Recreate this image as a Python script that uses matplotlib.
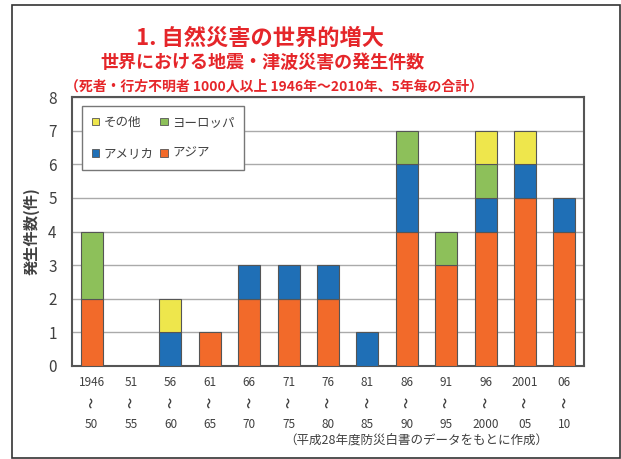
"""Earthquake / tsunami disaster counts, stacked by region."""

import matplotlib

matplotlib.use('Agg')
import matplotlib.pyplot as plt
import numpy as np
from matplotlib.patches import Patch, Rectangle

plt.rcParams['font.family'] = ['Noto Sans CJK JP', 'DejaVu Sans']

PERIOD_START = ['1946', '51', '56', '61', '66', '71', '76', '81', '86', '91', '96', '2001', '06']
PERIOD_END = ['50', '55', '60', '65', '70', '75', '80', '85', '90', '95', '2000', '05', '10']

ASIA = [2, 0, 0, 1, 2, 2, 2, 0, 4, 3, 4, 5, 4]
AMERICA = [0, 0, 1, 0, 1, 1, 1, 1, 2, 0, 1, 1, 1]
EUROPE = [2, 0, 0, 0, 0, 0, 0, 0, 1, 1, 1, 0, 0]
OTHER = [0, 0, 1, 0, 0, 0, 0, 0, 0, 0, 1, 1, 0]

SERIES = [
    ('アジア', ASIA, '#F26A2A'),
    ('アメリカ', AMERICA, '#1F6FB6'),
    ('ヨーロッパ', EUROPE, '#8DC05A'),
    ('その他', OTHER, '#EEE64C'),
]

TITLE_RED = '#E5262A'
TEXT_GRAY = '#404040'
EDGE_GRAY = '#555555'

W, H = 621, 459
fig = plt.figure(figsize=(W / 100, H / 100), dpi=100)

# outer frame around the whole slide
fig.patches.append(
    Rectangle((12 / W, 1 - 458 / H), (620 - 12) / W, (458 - 5) / H,
              transform=fig.transFigure, fill=False, edgecolor='#333333', linewidth=1.2)
)

ax = fig.add_axes([72 / W, 1 - 366 / H, 512 / W, 269 / H])

x = np.arange(len(PERIOD_START))
bottom = np.zeros(len(x))
for name, values, color in SERIES:
    vals = np.array(values, dtype=float)
    mask = vals > 0
    ax.bar(x[mask], vals[mask], bottom=bottom[mask], width=0.56, color=color,
           edgecolor=EDGE_GRAY, linewidth=0.8, zorder=3)
    bottom += vals

ax.set_xlim(-0.5, len(x) - 0.5)
ax.set_ylim(0, 8)
ax.set_yticks(range(0, 9))
ax.yaxis.grid(True, color='#AAAAAA', linewidth=1.0, zorder=0)
ax.set_axisbelow(True)
ax.tick_params(axis='y', length=0, pad=11, labelsize=11, labelcolor=TEXT_GRAY)
ax.tick_params(axis='x', length=0, pad=7, labelsize=8.5, labelcolor=TEXT_GRAY)
ax.set_xticks(x)
ax.set_xticklabels(PERIOD_START)

# "〜" written vertically, then the end year of each period
xform = ax.get_xaxis_transform()
for i, end in enumerate(PERIOD_END):
    ax.annotate('〜', xy=(i, 0), xycoords=xform, xytext=(0, -26.5), textcoords='offset points',
                ha='center', va='center', rotation=90, fontsize=8, fontweight='bold',
                color=TEXT_GRAY, annotation_clip=False)
    ax.annotate(end, xy=(i, 0), xycoords=xform, xytext=(0, -41.8), textcoords='offset points',
                ha='center', va='center', fontsize=8.5, color=TEXT_GRAY, annotation_clip=False)

for spine in ax.spines.values():
    spine.set_color('#555555')
    spine.set_linewidth(1.5)

ax.set_ylabel('発生件数(件)', fontsize=11, fontweight='bold', color=TEXT_GRAY, labelpad=6)

# legend: その他 / アメリカ in first column, ヨーロッパ / アジア in second
by_name = {name: color for name, _, color in SERIES}
order = ['その他', 'アメリカ', 'ヨーロッパ', 'アジア']
handles = [Patch(facecolor=by_name[n], edgecolor=EDGE_GRAY, linewidth=0.6, label=n) for n in order]
leg = ax.legend(handles=handles, ncol=2, loc='upper left', bbox_to_anchor=(0.0195, 0.967),
                borderaxespad=0, fontsize=9, handlelength=0.6, handleheight=0.6,
                handletextpad=0.35, columnspacing=0.5, labelspacing=1.45, borderpad=0.8,
                frameon=True, fancybox=False, framealpha=1.0, edgecolor='#777777')
leg.get_frame().set_linewidth(1.0)
for t in leg.get_texts():
    t.set_color(TEXT_GRAY)

fig.text(260 / W, 1 - 38 / H, '1. 自然災害の世界的増大', ha='center', va='center',
         fontsize=16, fontweight='bold', color=TITLE_RED)
fig.text(262 / W, 1 - 62 / H, '世界における地震・津波災害の発生件数', ha='center', va='center',
         fontsize=13, fontweight='bold', color=TITLE_RED)
fig.text(274 / W, 1 - 86 / H, '（死者・行方不明者 1000人以上 1946年～2010年、5年毎の合計）',
         ha='center', va='center', fontsize=10, fontweight='bold', color=TITLE_RED)
fig.text(548 / W, 1 - 440 / H, '（平成28年度防災白書のデータをもとに作成）', ha='right', va='center',
         fontsize=9, color=TEXT_GRAY)

fig.savefig('out.png', dpi=100)
